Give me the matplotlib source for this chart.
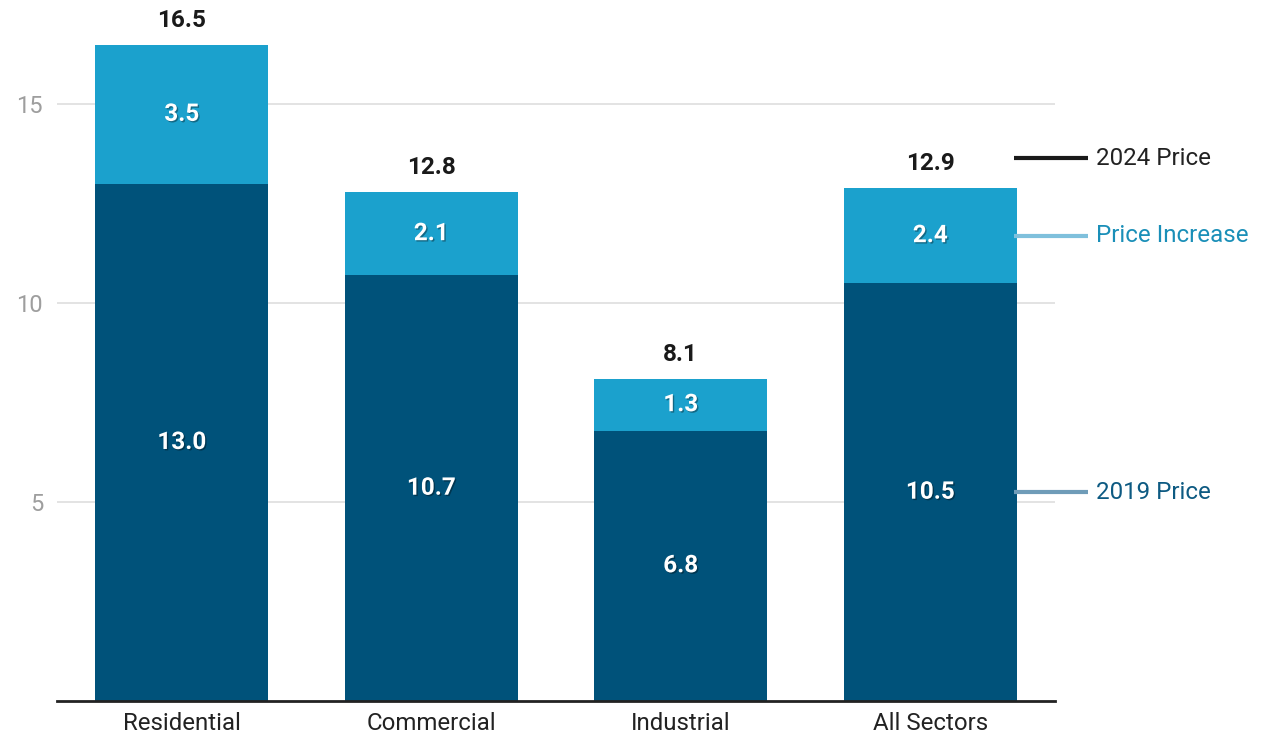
import numpy as np
import matplotlib
matplotlib.use("Agg")
import matplotlib.pyplot as plt
import matplotlib.patheffects as pe

plt.rcParams['font.family'] = ['Roboto', 'DejaVu Sans']

categories = ["Residential", "Commercial", "Industrial", "All Sectors"]
price_2019 = [13.0, 10.7, 6.8, 10.5]
price_increase = [3.5, 2.1, 1.3, 2.4]
price_2024 = [16.5, 12.8, 8.1, 12.9]

dark = "#00527a"
light = "#1ba1cd"

fig = plt.figure(figsize=(12.7, 7.36), dpi=100)
ax = fig.add_axes([57/1270, 35/736, (1055-57)/1270, (701-5)/736])

x = np.arange(len(categories))
w = 0.695
ax.bar(x, price_2019, w, color=dark, zorder=2)
ax.bar(x, price_increase, w, bottom=price_2019, color=light, zorder=2)

shadow = [pe.SimplePatchShadow(offset=(1, -1), shadow_rgbFace="black", alpha=0.35), pe.Normal()]
for i in range(len(categories)):
    ax.text(x[i], price_2019[i]/2, "%.1f" % price_2019[i], ha="center", va="center",
            color="white", fontsize=17.5, fontweight="bold", path_effects=shadow, zorder=3)
    ax.text(x[i], price_2019[i] + price_increase[i]/2, "%.1f" % price_increase[i], ha="center",
            va="center", color="white", fontsize=17.5, fontweight="bold", path_effects=shadow, zorder=3)
    ax.text(x[i], price_2024[i] + 0.62, "%.1f" % price_2024[i], ha="center", va="center",
            color="#1a1a1a", fontsize=17.5, fontweight="bold", zorder=3)

ax.set_xlim(-0.5, 3.5)
ax.set_ylim(0, 17.5)
ax.set_yticks([5, 10, 15])
ax.set_yticklabels(["5", "10", "15"])
ax.set_xticks(x)
ax.set_xticklabels(categories)
ax.tick_params(axis="y", length=0, labelsize=17, labelcolor="#9e9e9e", pad=10)
ax.tick_params(axis="x", length=0, labelsize=17.3, labelcolor="#222222", pad=8)
ax.grid(axis="y", color="#e0e0e0", linewidth=1.3, zorder=0)
for s in ["top", "right", "left"]:
    ax.spines[s].set_visible(False)
ax.spines["bottom"].set_color("#222222")
ax.spines["bottom"].set_linewidth(2)
ax.spines["bottom"].set_zorder(4)

# legend labels on the right
last = len(categories) - 1
x0 = x[last] + w/2
x1 = x0 + 0.285
xt = x1 + 0.03
legend = [
    (price_2024[last] + 0.75, "#1a1a1a", "#222222", "2024 Price"),
    (price_2019[last] + price_increase[last]/2, "#7fc0dc", "#1a8fb8", "Price Increase"),
    (price_2019[last]/2, "#6f9cb8", "#0d5a82", "2019 Price"),
]
for y, lc, tc, label in legend:
    ax.plot([x0 - 0.01, x1], [y, y], color=lc, linewidth=3, clip_on=False, zorder=3,
            solid_capstyle="butt")
    ax.text(xt, y, label, ha="left", va="center", color=tc, fontsize=17.4, clip_on=False)

fig.savefig("out.png", dpi=100)
